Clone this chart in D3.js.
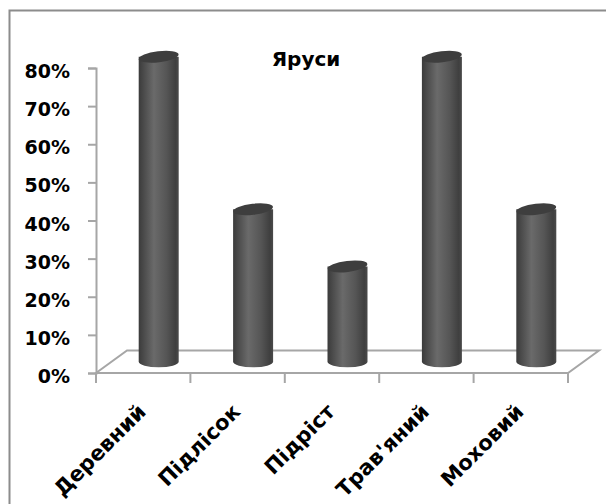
<!DOCTYPE html>
<html>
<head>
<meta charset="utf-8">
<script src="https://cdn.jsdelivr.net/npm/d3@7"></script>
<style>
  body { margin: 0; background: #fff; }
  svg { display: block; }
  text { font-family: 'DejaVu Sans', sans-serif; font-weight: bold; fill: #000; }
</style>
</head>
<body>
<div class="chart"></div>
<script>
const categories = ['Деревний', 'Підлісок', 'Підріст', "Трав'яний", 'Моховий'];
const values = [0.80, 0.40, 0.25, 0.80, 0.40];
const yTicks = [0, 0.1, 0.2, 0.3, 0.4, 0.5, 0.6, 0.7, 0.8];
const chartTitle = 'Яруси';

const W = 606, H = 504;
const plotLeft = 96, plotRight = 568, plotBottom = 373, plotTop = 68;
// depth of the 3d floor
const depth = { dx: 31, dy: -22.5 };

const svg = d3.select('.chart')
  .append('svg')
  .attr('width', W)
  .attr('height', H);

// chart area border (only top and left visible)
svg.append('path')
  .attr('d', `M9.5,${H} V10.5 H${W}`)
  .attr('fill', 'none')
  .attr('stroke', '#8c8c8c')
  .attr('stroke-width', 2);

const x = d3.scaleBand()
  .domain(categories)
  .range([plotLeft, plotRight])
  .padding(0);

const y = d3.scaleLinear()
  .domain([0, 0.8])
  .range([plotBottom, plotTop]);

const defs = svg.append('defs');
const grad = defs.append('linearGradient')
  .attr('id', 'cyl')
  .attr('x1', '0%').attr('x2', '100%')
  .attr('y1', '0%').attr('y2', '0%');
[[0, '#3b3b3b'], [0.12, '#4a4a4a'], [0.38, '#6a6a6a'], [0.7, '#555'], [0.92, '#3f3f3f'], [1, '#4a4a4a']]
  .forEach(([o, c]) => grad.append('stop').attr('offset', o).attr('stop-color', c));

// floor
const floorColor = '#a6a6a6';
svg.append('path')
  .attr('d', `M${plotLeft},${plotBottom} L${plotLeft + depth.dx},${plotBottom + depth.dy} L${plotRight + depth.dx},${plotBottom + depth.dy} L${plotRight},${plotBottom} Z`)
  .attr('fill', 'none')
  .attr('stroke', floorColor)
  .attr('stroke-width', 2);

// y axis
const yAxis = svg.append('g')
  .attr('transform', `translate(${plotLeft},0)`)
  .call(d3.axisLeft(y).tickValues(yTicks).tickSize(8).tickPadding(18).tickFormat(d3.format('.0%')));
yAxis.select('.domain').attr('stroke', floorColor).attr('stroke-width', 2);
yAxis.selectAll('.tick line').attr('stroke', floorColor).attr('stroke-width', 2);
yAxis.selectAll('.tick text')
  .attr('font-size', 19)
  .attr('font-family', "'DejaVu Sans', sans-serif")
  .attr('font-weight', 'bold')
  .attr('fill', '#000')
  .attr('dy', '0.5em');

// x axis ticks at band edges
const edges = categories.map(c => x(c)).concat([plotRight]);
svg.append('g')
  .selectAll('line')
  .data(edges)
  .join('line')
  .attr('x1', d => d).attr('x2', d => d)
  .attr('y1', plotBottom).attr('y2', plotBottom + 10)
  .attr('stroke', floorColor)
  .attr('stroke-width', 2);

// cylinders
const rx = 20, ry = 5.5;
const bars = svg.append('g')
  .selectAll('g')
  .data(categories.map((c, i) => ({ name: c, value: values[i] })))
  .join('g')
  .attr('transform', d => `translate(${x(d.name) + x.bandwidth() / 2 + depth.dx / 2},${depth.dy / 2})`);

bars.append('path')
  .attr('d', d => {
    const yt = y(d.value), yb = y(0);
    return `M${-rx},${yt} L${-rx},${yb} A${rx},${ry} 0 0 0 ${rx},${yb} L${rx},${yt} Z`;
  })
  .attr('fill', 'url(#cyl)');

bars.append('ellipse')
  .attr('cx', 0)
  .attr('cy', d => y(d.value))
  .attr('rx', rx)
  .attr('ry', ry)
  .attr('transform', d => `rotate(-7,0,${y(d.value)})`)
  .attr('fill', '#3e3e3e');

// category labels
svg.append('g')
  .selectAll('text')
  .data(categories)
  .join('text')
  .attr('transform', d => `translate(${x(d) + x.bandwidth() / 2 + 4},${plotBottom + 40}) rotate(-45)`)
  .attr('text-anchor', 'end')
  .attr('font-size', 21)
  .text(d => d);

// title
svg.append('text')
  .attr('x', 306)
  .attr('y', 66)
  .attr('text-anchor', 'middle')
  .attr('font-size', 20)
  .text(chartTitle);
</script>
</body>
</html>
